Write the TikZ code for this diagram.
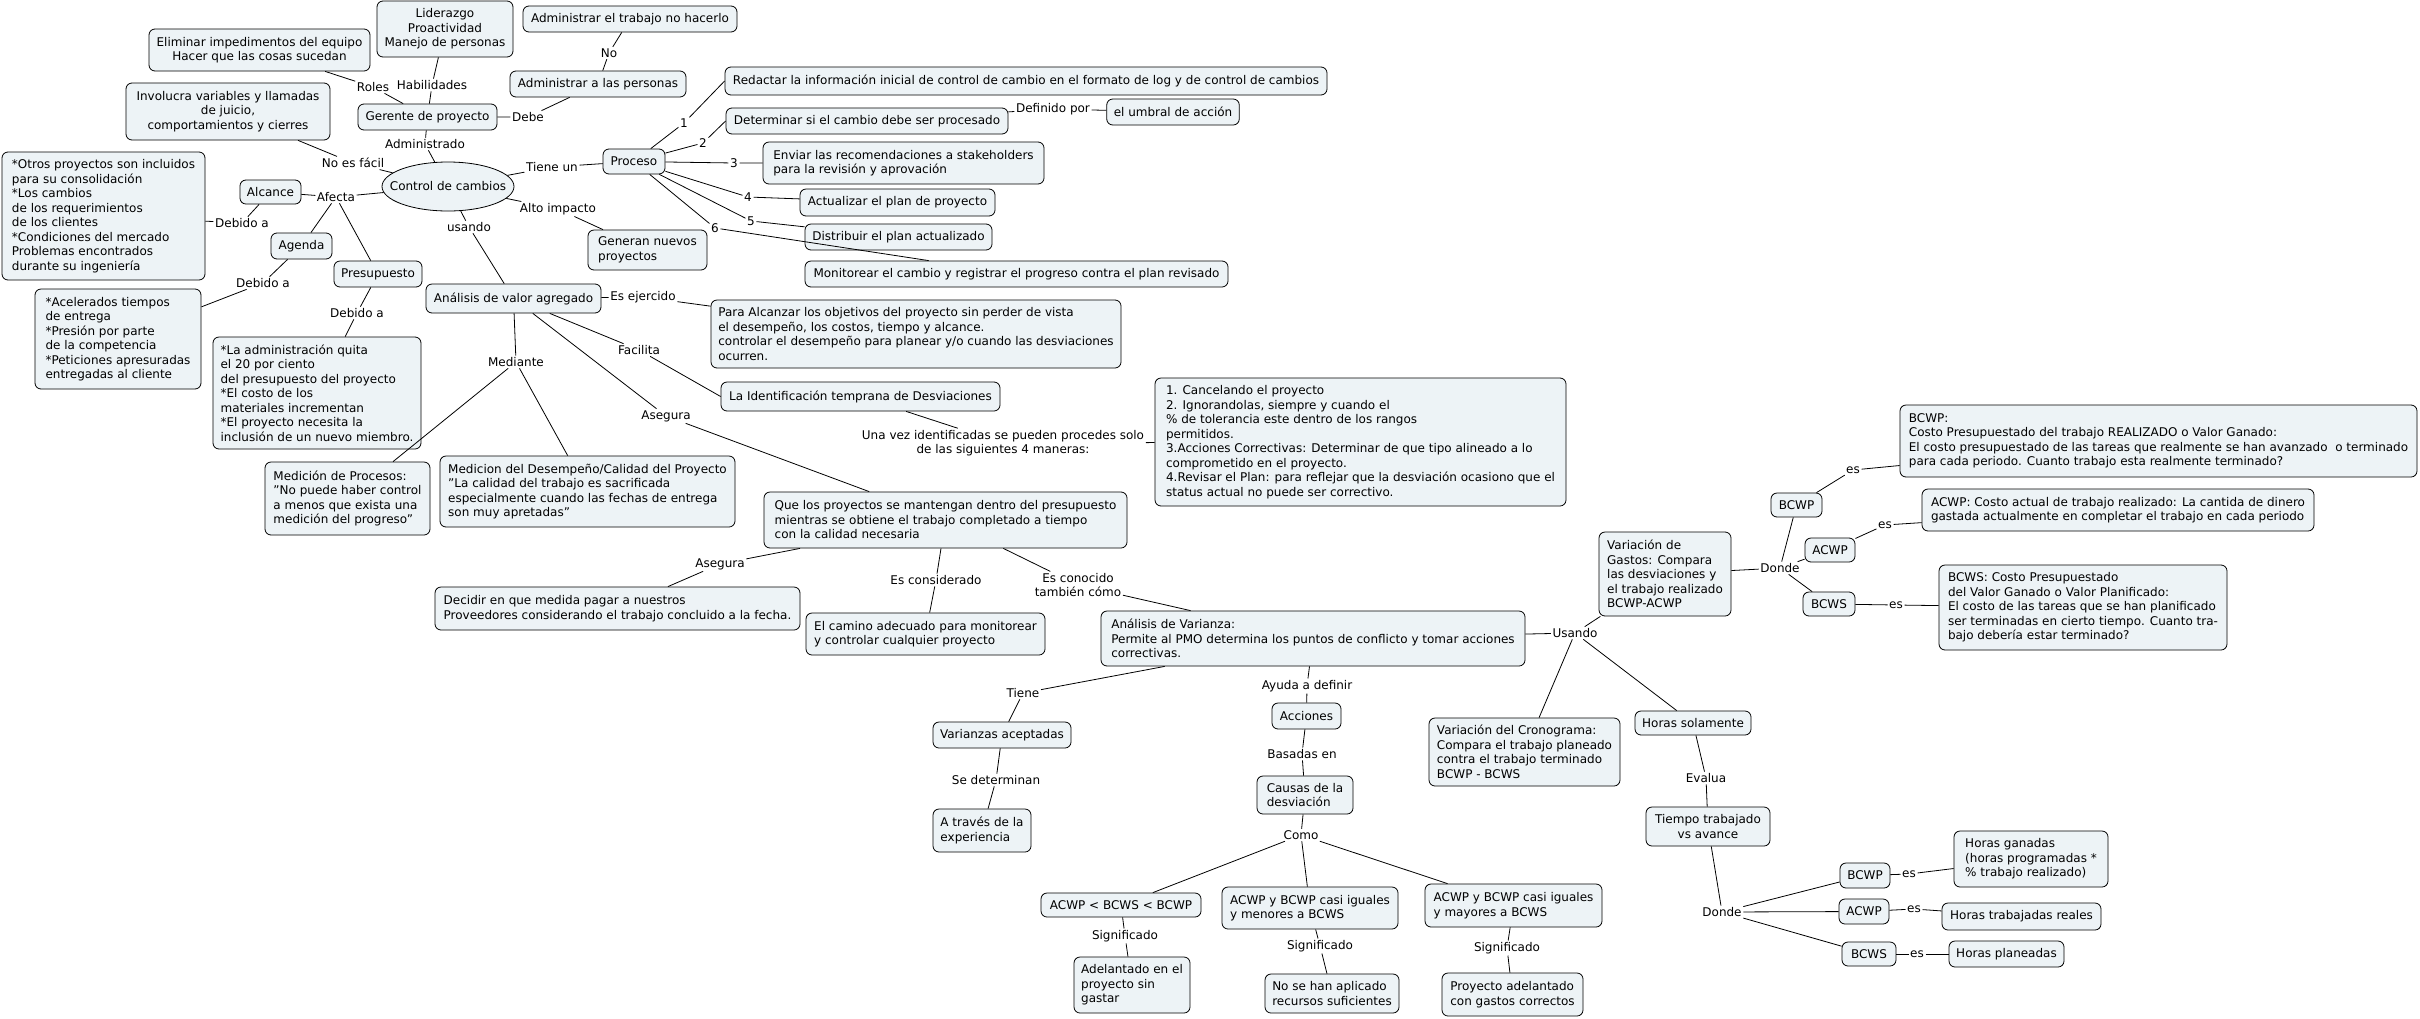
\documentclass[tikz,border=0pt]{standalone}
\usepackage{fontspec}
\setmainfont{DejaVu Sans}
\usetikzlibrary{shapes.geometric}
\definecolor{cfill}{RGB}{237,243,246}
\begin{document}
\begin{tikzpicture}[x=1pt,y=-1pt, font=\fontsize{12}{14.5}\selectfont,
  box/.style={draw, fill=cfill, rounded corners=6pt, inner xsep=7pt, inner ysep=3pt, line width=0.8pt, align=center},
  lbox/.style={box, align=left},
  wh/.style 2 args={minimum width=#1pt, minimum height=#2pt},
  lbl/.style={inner sep=1.5pt, align=center},
  conn/.style={line width=0.8pt}]
\fill[white] (0,0) rectangle (2420,1018);
\useasboundingbox (0,0) rectangle (2420,1018);

% ---------- concepts ----------
\node[box,wh={221}{42}] (elim) at (259.5,50) {Eliminar impedimentos del equipo\\Hacer que las cosas sucedan};
\node[box,wh={136}{56}] (lider) at (445,29) {Liderazgo\\Proactividad\\Manejo de personas};
\node[box,wh={214}{26}] (admtr) at (630,19) {Administrar el trabajo no hacerlo};
\node[box,wh={176}{26}] (admper) at (598,84) {Administrar a las personas};
\node[box,wh={139}{26}] (ger) at (427.5,117) {Gerente de proyecto};
\node[box,wh={204}{57}] (invol) at (228,111.5) {Involucra variables y llamadas\\de juicio,\\comportamientos y cierres};
\node[draw, fill=cfill, ellipse, line width=0.8pt, inner sep=0pt, minimum width=132pt, minimum height=49pt] (ctrl) at (448,186.5) {\makebox[0pt]{Control de cambios}};
\node[box,wh={61}{24}] (alc) at (270.5,192) {Alcance};
\node[lbox,wh={203}{128}] (otros) at (103.5,216) {*Otros proyectos son incluidos\\para su consolidación\\*Los cambios\\de los requerimientos\\de los clientes\\*Condiciones del mercado\\Problemas encontrados\\durante su ingeniería};
\node[box,wh={61}{26}] (agenda) at (301.5,246) {Agenda};
\node[box,wh={88}{26}] (presu) at (378,274) {Presupuesto};
\node[lbox,wh={166}{100}] (acel) at (118,339) {*Acelerados tiempos\\de entrega\\*Presión por parte\\de la competencia\\*Peticiones apresuradas\\entregadas al cliente};
\node[lbox,wh={208}{112}] (admq) at (317,393) {*La administración quita\\el 20 por ciento\\del presupuesto del proyecto\\*El costo de los\\materiales incrementan\\*El proyecto necesita la\\inclusión de un nuevo miembro.};
\node[box,wh={175}{29}] (ava) at (513.5,298.5) {Análisis de valor agregado};
\node[lbox,wh={165}{73}] (medp) at (347.5,498.5) {Medición de Procesos:\\"No puede haber control\\a menos que exista una\\medición del progreso"};
\node[lbox,wh={295}{71}] (medd) at (587.5,491.5) {Medicion del Desempeño/Calidad del Proyecto\\"La calidad del trabajo es sacrificada\\especialmente cuando las fechas de entrega\\son muy apretadas"};
\node[lbox,wh={365}{43}] (decid) at (617.5,608.5) {Decidir en que medida pagar a nuestros\\Proveedores considerando el trabajo concluido a la fecha.};
\node[box,wh={62}{25}] (proc) at (634,161.5) {Proceso};
\node[box,wh={602}{28}] (redac) at (1026,81) {Redactar la información inicial de control de cambio en el formato de log y de control de cambios};
\node[box,wh={282}{26}] (deter) at (867,121) {Determinar si el cambio debe ser procesado};
\node[box,wh={132}{26}] (umbral) at (1173,112) {el umbral de acción};
\node[lbox,wh={281}{42}] (enviar) at (903.5,163) {Enviar las recomendaciones a stakeholders\\para la revisión y aprovación};
\node[box,wh={195}{27}] (actual) at (897.5,202.5) {Actualizar el plan de proyecto};
\node[box,wh={187}{26}] (distr) at (898.5,237) {Distribuir el plan actualizado};
\node[box,wh={423}{26}] (monit) at (1016.5,274) {Monitorear el cambio y registrar el progreso contra el plan revisado};
\node[lbox,wh={119}{40}] (gener) at (647.5,250) {Generan nuevos\\proyectos};
\node[lbox,wh={410}{68}] (para) at (916,334) {Para Alcanzar los objetivos del proyecto sin perder de vista\\el desempeño, los costos, tiempo y alcance.\\controlar el desempeño para planear y/o cuando las desviaciones\\ocurren.};
\node[box,wh={279}{29}] (ident) at (860.5,396.5) {La Identificación temprana de Desviaciones};
\node[lbox,wh={411}{128}] (cancel) at (1360.5,442) {1. Cancelando el proyecto\\2. Ignorandolas, siempre y cuando el\\\% de tolerancia este dentro de los rangos\\permitidos.\\3.Acciones Correctivas: Determinar de que tipo alineado a lo\\comprometido en el proyecto.\\4.Revisar el Plan: para reflejar que la desviación ocasiono que el\\status actual no puede ser correctivo.};
\node[lbox,wh={363}{56}] (quel) at (945.5,520) {Que los proyectos se mantengan dentro del presupuesto\\mientras se obtiene el trabajo completado a tiempo\\con la calidad necesaria};
\node[lbox,wh={239}{42}] (camino) at (925.5,634) {El camino adecuado para monitorear\\y controlar cualquier proyecto};
\node[lbox,wh={424}{55}] (avar) at (1313,638.5) {Análisis de Varianza:\\Permite al PMO determina los puntos de conflicto y tomar acciones\\correctivas.};
\node[lbox,wh={132}{84}] (vgast) at (1665,574) {Variación de\\Gastos: Compara\\las desviaciones y\\el trabajo realizado\\BCWP-ACWP};
\node[lbox,wh={517}{72}] (bcwpT) at (2158.5,441) {BCWP:\\Costo Presupuestado del trabajo REALIZADO o Valor Ganado:\\El costo presupuestado de las tareas que realmente se han avanzado\ \ o terminado\\para cada periodo. Cuanto trabajo esta realmente terminado?};
\node[box,wh={51}{24}] (bcwpa) at (1796.5,505) {BCWP};
\node[lbox,wh={392}{42}] (acwpT) at (2118,510) {ACWP: Costo actual de trabajo realizado: La cantida de dinero\\gastada actualmente en completar el trabajo en cada periodo};
\node[box,wh={50}{24}] (acwpa) at (1830,550) {ACWP};
\node[box,wh={52}{24}] (bcwsa) at (1829,604) {BCWS};
\node[lbox,wh={288}{85}] (bcwsT) at (2083,607.5) {BCWS: Costo Presupuestado\\del Valor Ganado o Valor Planificado:\\El costo de las tareas que se han planificado\\ser terminadas en cierto tiempo. Cuanto tra-\\bajo debería estar terminado?};
\node[lbox,wh={191}{68}] (vcron) at (1524.5,752) {Variación del Cronograma:\\Compara el trabajo planeado\\contra el trabajo terminado\\BCWP - BCWS};
\node[box,wh={116}{24}] (horas) at (1693,723) {Horas solamente};
\node[box,wh={124}{39}] (tiempo) at (1708,826.5) {Tiempo trabajado\\vs avance};
\node[box,wh={50}{25}] (bcwpb) at (1865,875.5) {BCWP};
\node[lbox,wh={154}{56}] (hgan) at (2031,859) {Horas ganadas\\(horas programadas *\\\% trabajo realizado)};
\node[box,wh={50}{25}] (acwpb) at (1864,911.5) {ACWP};
\node[box,wh={159}{27}] (htrab) at (2021.5,916.5) {Horas trabajadas reales};
\node[box,wh={54}{24}] (bcwsb) at (1869,954) {BCWS};
\node[box,wh={115}{26}] (hplan) at (2006.5,954) {Horas planeadas};
\node[box,wh={138}{26}] (varac) at (1002,735) {Varianzas aceptadas};
\node[lbox,wh={98}{43}] (atrav) at (982,830.5) {A través de la\\experiencia};
\node[box,wh={69}{26}] (acc) at (1306.5,716) {Acciones};
\node[lbox,wh={96}{38}] (causas) at (1305,795) {Causas de la\\desviación};
\node[box,wh={160}{24}] (cA) at (1121,905) {ACWP < BCWS < BCWP};
\node[lbox,wh={176}{42}] (cB) at (1310,908) {ACWP y BCWP casi iguales\\y menores a BCWS};
\node[lbox,wh={177}{43}] (cC) at (1513.5,905.5) {ACWP y BCWP casi iguales\\y mayores a BCWS};
\node[lbox,wh={116}{56}] (rA) at (1132,985) {Adelantado en el\\proyecto sin\\gastar};
\node[lbox,wh={134}{39}] (rB) at (1332,993.5) {No se han aplicado\\recursos suficientes};
\node[lbox,wh={141}{43}] (rC) at (1512.5,994.5) {Proyecto adelantado\\con gastos correctos};

% ---------- linking phrases ----------
\node[lbl] (lNo) at (609,53) {No};
\node[lbl] (lRoles) at (373,87) {Roles};
\node[lbl] (lHab) at (432,85) {Habilidades};
\node[lbl] (lDebe) at (528,117) {Debe};
\node[lbl] (lAdmdo) at (425,144) {Administrado};
\node[lbl] (lNoes) at (353,163) {No es fácil};
\node[lbl] (lTiene) at (552,167) {Tiene un};
\node[lbl] (lAfecta) at (336,197) {Afecta};
\node[lbl] (lAlto) at (558,209) {Alto impacto};
\node[lbl] (lUsando) at (469,227) {usando};
\node[lbl] (lDebA) at (242,223) {Debido a};
\node[lbl] (lDebB) at (263,283) {Debido a};
\node[lbl] (lDebC) at (357,313) {Debido a};
\node[lbl] (lEsej) at (643,297) {Es ejercido};
\node[lbl] (lFac) at (639,350) {Facilita};
\node[lbl] (lMed) at (516,362) {Mediante};
\node[lbl] (lAsegA) at (666,416) {Asegura};
\node[lbl] (lUna) at (1003,443) {Una vez identificadas se pueden procedes solo\\de las siguientes 4 maneras:};
\node[lbl] (lAsegB) at (720,564) {Asegura};
\node[lbl] (lEscons) at (936,580) {Es considerado};
\node[lbl] (lEscon) at (1078,585) {Es conocido\\también cómo};
\node[lbl] (lOne) at (684,123) {1};
\node[lbl] (lTwo) at (703,143) {2};
\node[lbl] (lThree) at (734,163) {3};
\node[lbl] (lFour) at (748,197) {4};
\node[lbl] (lFive) at (751,221) {5};
\node[lbl] (lSix) at (715,228) {6};
\node[lbl] (lDef) at (1053,109) {Definido por};
\node[lbl] (lTieneB) at (1023,693) {Tiene};
\node[lbl] (lSedet) at (996,780) {Se determinan};
\node[lbl] (lAyuda) at (1307,686) {Ayuda a definir};
\node[lbl] (lBas) at (1302,754) {Basadas en};
\node[lbl] (lComo) at (1301,835) {Como};
\node[lbl] (lSigA) at (1125,936) {Significado};
\node[lbl] (lSigB) at (1320,946) {Significado};
\node[lbl] (lSigC) at (1507,948) {Significado};
\node[lbl] (lUsandoB) at (1575,633) {Usando};
\node[lbl] (lDondeA) at (1780,568) {Donde};
\node[lbl] (lEsA) at (1853,470) {es};
\node[lbl] (lEsB) at (1885,525) {es};
\node[lbl] (lEsC) at (1896,605) {es};
\node[lbl] (lEvalua) at (1706,778) {Evalua};
\node[lbl] (lDondeB) at (1722,912) {Donde};
\node[lbl] (lEsD) at (1909,874) {es};
\node[lbl] (lEsE) at (1914,909) {es};
\node[lbl] (lEsF) at (1917,954) {es};

% ---------- connectors ----------
\draw[conn] (ger) -- (lRoles) -- (elim);
\draw[conn] (ger) -- (lHab) -- (lider);
\draw[conn] (ger) -- (lDebe) -- (admper);
\draw[conn] (admper) -- (lNo) -- (admtr);
\draw[conn] (ctrl) -- (lAdmdo) -- (ger);
\draw[conn] (ctrl) -- (lNoes) -- (invol);
\draw[conn] (ctrl) -- (lAfecta);
\draw[conn] (lAfecta) -- (alc);
\draw[conn] (lAfecta) -- (agenda);
\draw[conn] (lAfecta) -- (presu);
\draw[conn] (alc) -- (lDebA) -- (otros);
\draw[conn] (agenda) -- (lDebB) -- (acel);
\draw[conn] (presu) -- (lDebC) -- (admq);
\draw[conn] (ctrl) -- (lTiene) -- (proc);
\draw[conn] (proc) -- (lOne) -- (redac.west);
\draw[conn] (proc) -- (lTwo) -- (deter.west);
\draw[conn] (proc) -- (lThree) -- (enviar);
\draw[conn] (proc) -- (lFour) -- (actual);
\draw[conn] (proc) -- (lFive) -- (distr);
\draw[conn] (proc) -- (lSix) -- (monit);
\draw[conn] (deter) -- (lDef) -- (umbral);
\draw[conn] (ctrl) -- (lAlto) -- (gener);
\draw[conn] (ctrl) -- (lUsando) -- (ava);
\draw[conn] (ava) -- (lEsej) -- (para);
\draw[conn] (ava) -- (lFac) -- (ident.west);
\draw[conn] (ava) -- (lMed);
\draw[conn] (lMed) -- (medp);
\draw[conn] (lMed) -- (medd);
\draw[conn] (ava) -- (lAsegA) -- (quel);
\draw[conn] (ident) -- (lUna) -- (cancel);
\draw[conn] (quel) -- (lAsegB) -- (decid);
\draw[conn] (quel) -- (lEscons) -- (camino);
\draw[conn] (quel) -- (lEscon) -- (avar);
\draw[conn] (avar) -- (lTieneB) -- (varac) -- (lSedet) -- (atrav);
\draw[conn] (avar) -- (lAyuda) -- (acc) -- (lBas) -- (causas) -- (lComo);
\draw[conn] (lComo) -- (cA);
\draw[conn] (lComo) -- (cB);
\draw[conn] (lComo) -- (cC);
\draw[conn] (cA) -- (lSigA) -- (rA);
\draw[conn] (cB) -- (lSigB) -- (rB);
\draw[conn] (cC) -- (lSigC) -- (rC);
\draw[conn] (avar) -- (lUsandoB);
\draw[conn] (lUsandoB) -- (vgast);
\draw[conn] (lUsandoB) -- (vcron);
\draw[conn] (lUsandoB) -- (horas);
\draw[conn] (vgast) -- (lDondeA);
\draw[conn] (lDondeA) -- (bcwpa);
\draw[conn] (lDondeA) -- (acwpa);
\draw[conn] (lDondeA) -- (bcwsa);
\draw[conn] (bcwpa) -- (lEsA) -- (bcwpT);
\draw[conn] (acwpa) -- (lEsB) -- (acwpT);
\draw[conn] (bcwsa) -- (lEsC) -- (bcwsT);
\draw[conn] (horas) -- (lEvalua) -- (tiempo) -- (lDondeB);
\draw[conn] (lDondeB) -- (bcwpb);
\draw[conn] (lDondeB) -- (acwpb);
\draw[conn] (lDondeB) -- (bcwsb);
\draw[conn] (bcwpb) -- (lEsD) -- (hgan);
\draw[conn] (acwpb) -- (lEsE) -- (htrab);
\draw[conn] (bcwsb) -- (lEsF) -- (hplan);
\end{tikzpicture}
\end{document}
